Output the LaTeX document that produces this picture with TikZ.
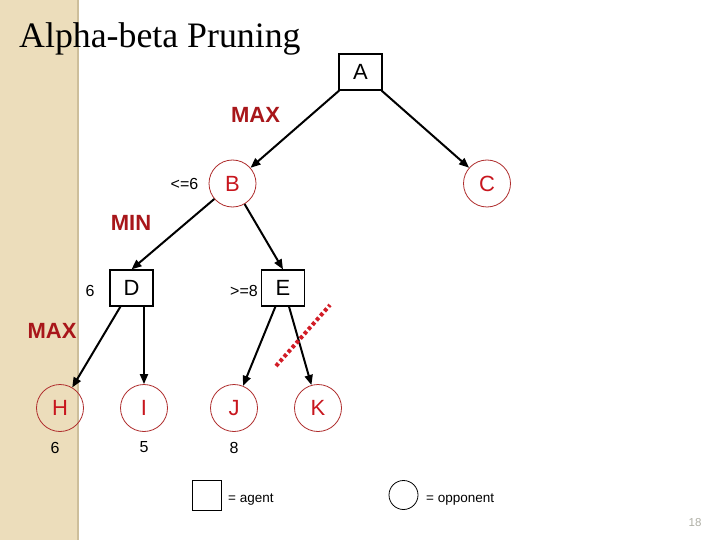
\documentclass[tikz,border=0pt]{standalone}
\usepackage{fontspec}
\setmainfont{Liberation Serif}
\newfontfamily\arial{Liberation Sans}
\usetikzlibrary{arrows.meta}
\definecolor{strip}{RGB}{236,221,187}
\definecolor{stripedge}{RGB}{205,190,155}
\definecolor{cred}{RGB}{200,22,30}
\definecolor{cdark}{RGB}{168,22,26}
\definecolor{ccirc}{RGB}{175,45,45}
\definecolor{cut}{RGB}{210,28,38}
\definecolor{pgnum}{RGB}{175,175,165}
\newcommand{\fsz}[1]{\arial\fontsize{#1}{#1}\selectfont}
\tikzset{
  agentbox/.style={draw, line width=1.2pt, minimum width=43pt, minimum height=36pt, inner sep=0pt, font=\fsz{22}},
  oppcirc/.style={circle, draw=ccirc, line width=0.8pt, minimum size=47pt, inner sep=0pt, text=cred, font=\fsz{22}},
  levellabel/.style={text=cdark, font=\fsz{22}\bfseries, inner sep=0pt},
  vallabel/.style={font=\fsz{16}, inner sep=0pt},
  tedge/.style={line width=2pt, -{Triangle[length=10pt,width=8pt]}},
}
\begin{document}
\begin{tikzpicture}[x=1pt,y=-1pt]
\useasboundingbox (0,0) rectangle (720,540);
\fill[white] (0,0) rectangle (720,540);
\fill[strip] (0,0) rectangle (78,540);
\draw[stripedge, line width=1.5pt] (78,0) -- (78,540);
% title
\node[anchor=base west, inner sep=0pt, font=\fontsize{35.8}{36}\selectfont] (title) at (19,48) {Alpha-beta Pruning};
% nodes
\node[agentbox] (A) at (360.5,72) {A};
\node[oppcirc] (B) at (232.5,183.5) {B};
\node[oppcirc] (C) at (487,183.5) {C};
\node[agentbox] (D) at (131.5,288) {D};
\node[agentbox] (E) at (283,288) {E};
\node[oppcirc] (H) at (60,408) {H};
\node[oppcirc] (I) at (144,408) {I};
\node[oppcirc] (J) at (234,408) {J};
\node[oppcirc] (K) at (318,408) {K};
% level labels
\node[levellabel] (max1) at (255.5,115) {MAX};
\node[levellabel] (min1) at (131,222.5) {MIN};
\node[levellabel] (max2) at (52,331) {MAX};
% value labels
\node[vallabel] (vB) at (184.5,184) {<=6};
\node[vallabel] (vD) at (90,291) {6};
\node[vallabel] (vE) at (244,291) {>=8};
\node[vallabel] (vH) at (55,447.5) {6};
\node[vallabel] (vI) at (144,447.5) {5};
\node[vallabel] (vJ) at (234,447.5) {8};
% edges
\draw[tedge] (A) -- (B);
\draw[tedge] (A) -- (C);
\draw[tedge] (B) -- (D.north);
\draw[tedge] (B) -- (E.north);
\draw[tedge] (D) -- (H);
\draw[tedge] (I |- D.south) -- (I);
\draw[tedge] (E) -- (J);
\draw[tedge] ([xshift=6pt]E.south) -- (K);
% cut
\coordinate (cut1) at (276,366);
\coordinate (cut2) at (330,305);
\draw[cut, line width=4pt, dash pattern=on 3.5pt off 2.6pt] (cut1) -- (cut2);
% legend
\node[draw, line width=1pt, minimum width=29pt, minimum height=30pt, inner sep=0pt] (legA) at (206.5,495) {};
\node[anchor=base west, inner sep=0pt, font=\fsz{13.5}] (legAt) at (228,502) {= agent};
\node[circle, draw, line width=0.8pt, minimum size=29pt, inner sep=0pt] (legO) at (403.5,495) {};
\node[anchor=base west, inner sep=0pt, font=\fsz{13.5}] (legOt) at (426,502) {= opponent};
\node[text=pgnum, font=\fsz{11.5}, inner sep=0pt] (pg) at (695,523) {18};
\end{tikzpicture}
\end{document}
